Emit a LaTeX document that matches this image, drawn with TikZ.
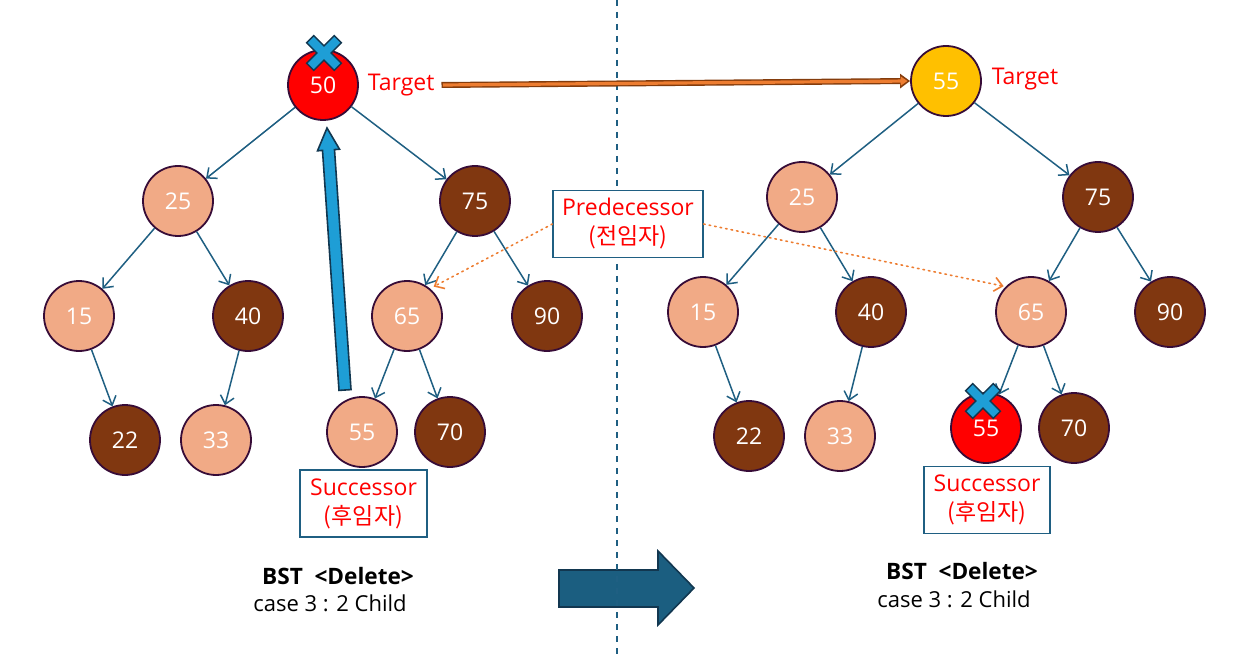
\documentclass[tikz,border=0pt]{standalone}
\usepackage{fontspec}
\setmainfont{Open Sans}
\newfontfamily\krfont{Noto Sans CJK KR}
\usetikzlibrary{arrows.meta,positioning,calc}
\definecolor{edgeblue}{RGB}{31,95,130}
\definecolor{keyline}{RGB}{55,12,55}
\definecolor{salmon}{RGB}{241,170,134}
\definecolor{nutbrown}{RGB}{128,55,16}
\definecolor{gold}{RGB}{255,192,0}
\definecolor{accent}{RGB}{237,125,49}
\definecolor{rust}{RGB}{132,60,12}
\definecolor{crossblue}{RGB}{30,158,214}
\definecolor{crossline}{RGB}{18,55,80}
\definecolor{slab}{RGB}{27,94,128}

\begin{document}
\begin{tikzpicture}[
  x=0.5pt,y=-0.5pt,
  font=\fontsize{11.5}{14.5}\selectfont,
  >={Straight Barb[length=4pt,width=7pt]},
  key/.style={circle,draw=keyline,line width=0.9pt,minimum size=35pt,inner sep=0pt,text=white},
  lite/.style={key,fill=salmon},
  dark/.style={key,fill=nutbrown},
  doomed/.style={key,fill=red},
  moved/.style={key,fill=gold},
  link/.style={->,edgeblue,line width=0.75pt},
  tag/.style={text=red},
  labelbox/.style={draw=edgeblue,line width=0.6pt,fill=white,align=center,text=red,inner sep=2pt,minimum height=33.5pt},
  hint/.style={->,accent,dotted,line width=0.8pt,line cap=round},
  title/.style={font=\fontsize{11.3}{13}\selectfont\bfseries},
  subtitle/.style={font=\fontsize{11}{13}\selectfont},
  delmark/.pic={\path[fill=crossblue,draw=crossline,line width=0.7pt,rotate=45]
    (5,-19.5) -- (5,-5) -- (19.5,-5) -- (19.5,5) -- (5,5) -- (5,19.5) -- (-5,19.5)
    -- (-5,5) -- (-19.5,5) -- (-19.5,-5) -- (-5,-5) -- (-5,-19.5) -- cycle;},
]
\useasboundingbox (0,0) rectangle (1234,657);
% ---- next-step arrow and divider ----
\path[fill=slab,draw=crossline,line width=0.8pt] (559,570) -- (658,570) -- (658,551) -- (694,588)
  -- (658,625) -- (658,607) -- (559,607) -- cycle;
\coordinate (divtop) at (617,0);
\coordinate (divbot) at (617,657);
\draw[edgeblue,line width=1pt,dash pattern=on 3pt off 3pt] (divtop) -- (divbot);
% ---- left tree: before deletion ----
\node[doomed] (a50) at (323,85) {50};
\node[lite] (a25) at (178,201) {25};
\node[dark] (a75) at (475,201) {75};
\node[lite] (a15) at (79,316) {15};
\node[dark] (a40) at (248,316) {40};
\node[lite] (a65) at (407,316) {65};
\node[dark] (a90) at (547,316) {90};
\node[dark] (a22) at (125,440) {22};
\node[lite] (a33) at (216,440) {33};
\node[lite] (a55) at (362,432) {55};
\node[dark] (a70) at (450,432) {70};
\draw[link] (a50) -- (a25);
\draw[link] (a50) -- (a75);
\draw[link] (a25) -- (a15);
\draw[link] (a25) -- (a40);
\draw[link] (a15) -- (a22);
\draw[link] (a40) -- (a33);
\draw[link] (a75) -- (a65);
\draw[link] (a75) -- (a90);
\draw[link] (a65) -- (a55);
\draw[link] (a65) -- (a70);
\node[tag,right=1pt of a50] (tgtA) {Target};
\pic at (324,53) {delmark};
% successor moves up (block arrow)
\path[fill=crossblue,draw=crossline,line width=0.8pt] (351,389.6) -- (334.5,149.6) -- (339.5,149.2)
  -- (327,128) -- (317.5,150.8) -- (322.5,150.4) -- (339,390.4) -- cycle;
\node[labelbox,minimum width=63.5pt] (succA) at (363.5,503.5) {Successor\\{\krfont(후임자)}};
\node[title] (capA) at (338,576) {BST\ \ <Delete>};
\node[subtitle] (subA) at (330,603) {case 3 : 2 Child};
% ---- right tree: after deletion ----
\node[moved] (b55) at (946,81) {55};
\node[lite] (b25) at (802,197) {25};
\node[dark] (b75) at (1098,197) {75};
\node[lite] (b15) at (703,312) {15};
\node[dark] (b40) at (871,312) {40};
\node[lite] (b65) at (1031,312) {65};
\node[dark] (b90) at (1170,312) {90};
\node[dark] (b22) at (749,436) {22};
\node[lite] (b33) at (840,436) {33};
\node[doomed] (bdel) at (986,428) {55};
\node[dark] (b70) at (1074,428) {70};
\draw[link] (b55) -- (b25);
\draw[link] (b55) -- (b75);
\draw[link] (b25) -- (b15);
\draw[link] (b25) -- (b40);
\draw[link] (b15) -- (b22);
\draw[link] (b40) -- (b33);
\draw[link] (b75) -- (b65);
\draw[link] (b75) -- (b90);
\draw[link] (b65) -- (bdel);
\draw[link] (b65) -- (b70);
\node[tag] (tgtB) at (1025,79) {Target};
\pic at (983,401) {delmark};
\node[labelbox,minimum width=63pt] (succB) at (987,500) {Successor\\{\krfont(후임자)}};
\node[title] (capB) at (962,571) {BST\ \ <Delete>};
\node[subtitle] (subB) at (954,599) {case 3 : 2 Child};
% ---- target value carried over ----
\draw[rust,line width=3pt,-{Triangle[length=5pt,width=7pt]}] (tgtA.east) -- (b55.west);
\draw[accent,line width=1.6pt,shorten >=1.3pt,shorten <=0.7pt,-{Triangle[length=3.4pt,width=4.4pt]}] (tgtA.east) -- (b55.west);
% ---- predecessor hints ----
\node[labelbox,minimum width=75pt] (pred) at (628,224) {Predecessor\\{\krfont(전임자)}};
\draw[hint,shorten >=2pt] (pred.west) -- (a65.50);
\draw[hint,shorten >=1pt] (pred.east) -- (b65.135);
\end{tikzpicture}
\end{document}
